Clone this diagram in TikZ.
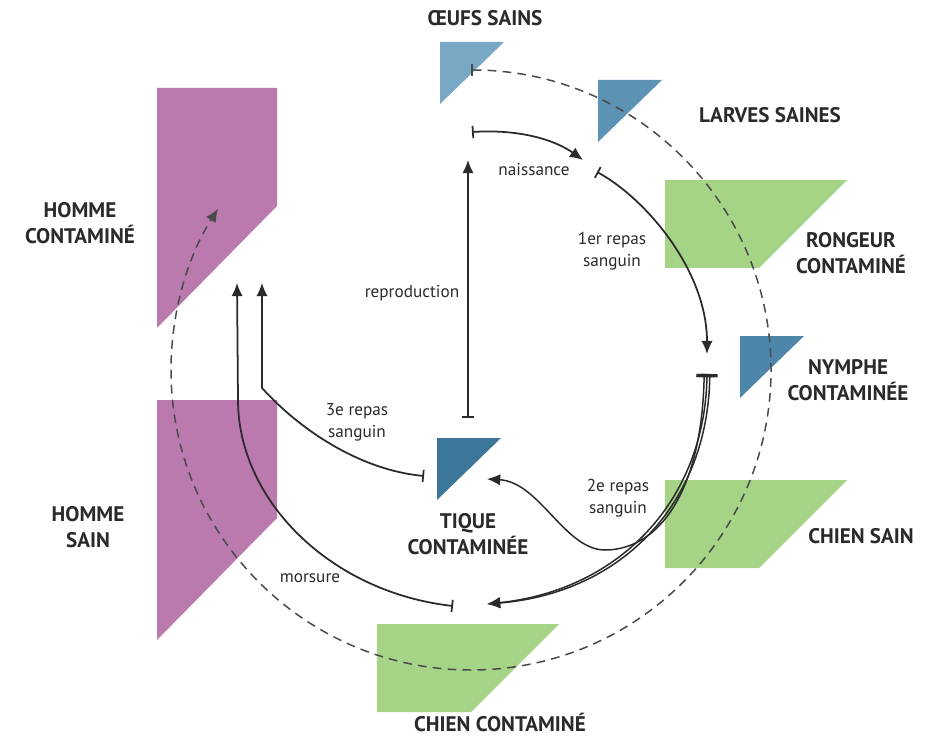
\documentclass[tikz,border=0pt]{standalone}
\usepackage{fontspec}
\setmainfont{PT Sans}
\usetikzlibrary{arrows.meta}
\definecolor{eggblue}{HTML}{78A8C4}
\definecolor{larvablue}{HTML}{5C92B4}
\definecolor{nymphblue}{HTML}{4E86AA}
\definecolor{tickblue}{HTML}{3C7698}
\definecolor{hostgreen}{HTML}{A6D486}
\definecolor{manpink}{HTML}{BA7AAD}
\definecolor{inkgray}{HTML}{2A2A2A}
\definecolor{dashgray}{HTML}{4A4A4A}
\newcommand{\tickcell}{\fill (0,0) -- (64,0) -- (0,62) -- cycle;}
\newcommand{\hostcell}{\fill (0,0) -- (182,0) -- (94,88) -- (0,88) -- cycle;}
\newcommand{\mancell}{\fill (0,0) -- (120,0) -- (120,118) -- (0,240) -- cycle;}
\tikzset{
	stage/.style={font=\bfseries\fontsize{12}{15}\selectfont, text=inkgray, align=center, inner sep=0pt},
	meal/.style={font=\fontsize{9.8}{12.5}\selectfont, text=inkgray, align=center, inner sep=0pt},
	flow/.style={draw=inkgray, line width=1pt, {Bar[width=7pt,line width=1pt]}-{Latex[length=7.5pt,width=6.5pt]}},
	bundle/.style={draw=inkgray, line width=0.85pt, {Bar[width=9pt,line width=1.8pt]}-{Latex[length=7.5pt,width=6.5pt]}},
	cycleline/.style={draw=dashgray, line width=0.85pt, dash pattern=on 5pt off 3.5pt, {Bar[width=7pt,line width=1.3pt]}-{Latex[length=7.5pt,width=6.5pt]}}
}

\begin{document}
\begin{tikzpicture}[x=0.02cm, y=-0.02cm]
	\useasboundingbox (0,0) rectangle (945,739);

	\begin{scope}[shift={(440,42)}, fill=eggblue]
		\tickcell
	\end{scope}

	\begin{scope}[shift={(598,80)}, fill=larvablue]
		\tickcell
	\end{scope}

	\begin{scope}[shift={(740,336)}, fill=nymphblue]
		\tickcell
	\end{scope}

	\begin{scope}[shift={(437,438)}, fill=tickblue]
		\tickcell
	\end{scope}

	\begin{scope}[shift={(665,180)}, fill=hostgreen]
		\hostcell
	\end{scope}

	\begin{scope}[shift={(665,480)}, fill=hostgreen]
		\hostcell
	\end{scope}

	\begin{scope}[shift={(377,624)}, fill=hostgreen]
		\hostcell
	\end{scope}

	\begin{scope}[shift={(157,88)}, fill=manpink]
		\mancell
	\end{scope}

	\begin{scope}[shift={(157,400)}, fill=manpink]
		\mancell
	\end{scope}

	\node[stage] (oeufs) at (485,18) {ŒUFS SAINS};
	\node[stage] (larves) at (770,115) {LARVES SAINES};
	\node[stage] (rongeur) at (851,253) {RONGEUR\\CONTAMINÉ};
	\node[stage] (nymphe) at (848,380) {NYMPHE\\CONTAMINÉE};
	\node[stage] (chiensain) at (861,536) {CHIEN SAIN};
	\node[stage] (chiencont) at (500,722) {CHIEN CONTAMINÉ};
	\node[stage] (tique) at (468,534) {TIQUE\\CONTAMINÉE};
	\node[stage] (hommecont) at (80,223) {HOMME\\CONTAMINÉ};
	\node[stage] (hommesain) at (88,527) {HOMME\\SAIN};

	\node[meal] (naissance) at (534,170) {naissance};
	\node[meal] (repasA) at (612,251) {1er repas\\sanguin};
	\node[meal] (reprod) at (412,293) {reproduction};
	\node[meal] (repasC) at (357,422) {3e repas\\sanguin};
	\node[meal] (repasB) at (618,498) {2e repas\\sanguin};
	\node[meal] (morsure) at (310,578) {morsure};

	\coordinate (eggtop) at (471,70);
	\coordinate (bornfrom) at (472,132);
	\coordinate (bornto) at (583,160);
	\coordinate (larvafrom) at (597,172);
	\coordinate (nymphto) at (707,354);
	\coordinate (nymphfrom) at (707,374);
	\coordinate (adultfrom) at (468,418);
	\coordinate (adultto) at (468,160);
	\coordinate (tiquein) at (487,479);
	\coordinate (dogin) at (487,604);
	\coordinate (dogfrom) at (453,606);
	\coordinate (tiquefrom) at (424,476);
	\coordinate (maninA) at (237,283);
	\coordinate (maninB) at (262,283);

	\draw[cycleline] (eggtop) arc[start angle=-90, end angle=212.5, radius=300];

	\draw[flow] (bornfrom) .. controls (520,129) and (555,140) .. (bornto);
	\draw[flow] (larvafrom) .. controls (645,198) and (707,270) .. (nymphto);
	\draw[flow] (adultfrom) -- (adultto);
	\draw[bundle] (nymphfrom) .. controls (705,500) and (620,590) .. (dogin);
	\draw[bundle] ([xshift=1.6]nymphfrom) .. controls (708,503) and (622,593) .. (dogin);
	\draw[bundle] ([xshift=-1.6]nymphfrom) .. controls (702,490) and (660,549) .. (606,550)
		.. controls (565,551) and (540,482) .. (tiquein);
	\draw[flow] (dogfrom) .. controls (330,592) and (238,500) .. (238,400) -- (maninA);
	\draw[flow] (tiquefrom) .. controls (360,470) and (300,430) .. (262,388) -- (maninB);
\end{tikzpicture}
\end{document}
